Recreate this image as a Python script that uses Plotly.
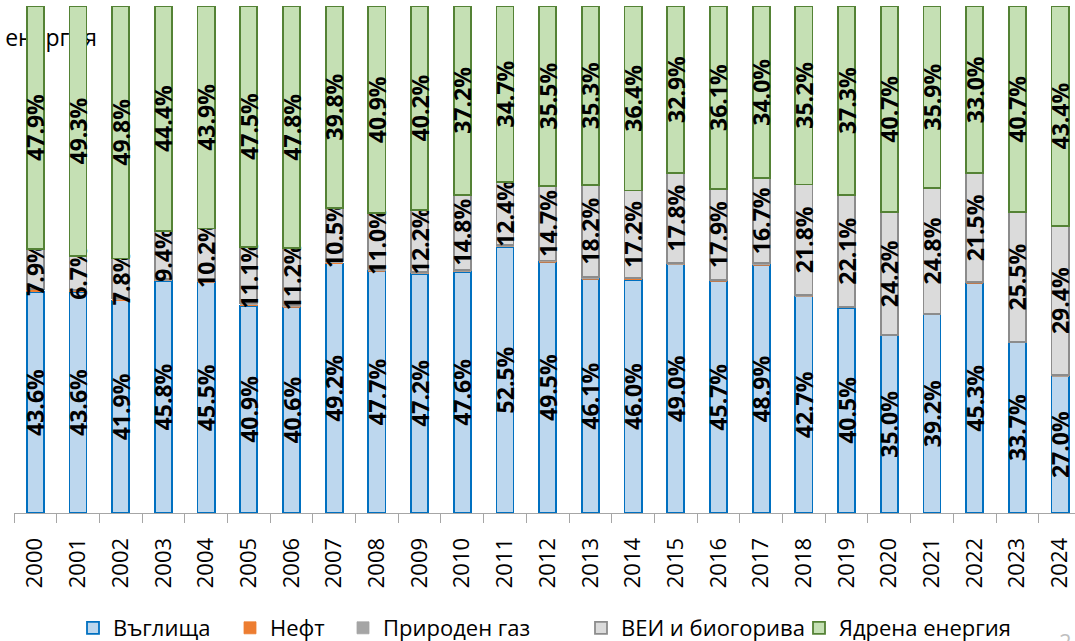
import plotly.graph_objects as go

years = [str(y) for y in range(2000, 2025)]

coal = [43.6, 43.6, 41.9, 45.8, 45.5, 40.9, 40.6, 49.2, 47.7, 47.2, 47.6, 52.5, 49.5,
        46.1, 46.0, 49.0, 45.7, 48.9, 42.7, 40.5, 35.0, 39.2, 45.3, 33.7, 27.0]
oil = [0.4, 0.3, 0.3, 0.1, 0.1, 0.2, 0.2, 0.2, 0.1, 0.1, 0.1, 0.1, 0.2,
       0.1, 0.3, 0.1, 0.1, 0.1, 0.1, 0.0, 0.0, 0.0, 0.1, 0.0, 0.0]
gas = [0.2, 0.1, 0.2, 0.3, 0.3, 0.3, 0.2, 0.3, 0.3, 0.3, 0.3, 0.3, 0.1,
       0.3, 0.1, 0.2, 0.2, 0.3, 0.2, 0.1, 0.1, 0.1, 0.1, 0.1, 0.2]
res = [7.9, 6.7, 7.8, 9.4, 10.2, 11.1, 11.2, 10.5, 11.0, 12.2, 14.8, 12.4, 14.7,
       18.2, 17.2, 17.8, 17.9, 16.7, 21.8, 22.1, 24.2, 24.8, 21.5, 25.5, 29.4]
nuclear = [47.9, 49.3, 49.8, 44.4, 43.9, 47.5, 47.8, 39.8, 40.9, 40.2, 37.2, 34.7, 35.5,
           35.3, 36.4, 32.9, 36.1, 34.0, 35.2, 37.3, 40.7, 35.9, 33.0, 40.7, 43.4]

FONT = "Open Sans"
label_font = dict(family=FONT, size=23, color="black", weight="bold")

# name, values, fill, outline, outline width, labelled, legend id, legend left (px)
series = [
    ("Въглища", coal, "#BDD7EE", "#0070C0", 1.8, True, "legend", 73),
    ("Нефт", oil, "#ED7D31", "#ED7D31", 0.8, False, "legend2", 230),
    ("Природен газ", gas, "#A5A5A5", "#A5A5A5", 0.8, False, "legend3", 343),
    ("ВЕИ и биогорива", res, "#DBDBDB", "#8C8C8C", 1.8, True, "legend4", 581),
    ("Ядрена енергия", nuclear, "#C5E0B4", "#548235", 1.8, True, "legend5", 799),
]

PLOT_L, PLOT_W = 14, 1061
PLOT_B, PLOT_H = 513, 507

fig = go.Figure()
legends = {}
for name, vals, fill, edge, lw, labelled, leg, left_px in series:
    fig.add_trace(go.Bar(
        x=years, y=vals, name=name, legend=leg,
        marker=dict(color=fill, line=dict(color=edge, width=lw)),
        text=[f"{v:.1f}%" for v in vals] if labelled else None,
        textposition="inside" if labelled else "none",
        insidetextanchor="middle",
        textangle=-90,
        constraintext="none",
        insidetextfont=label_font,
        cliponaxis=False,
        hoverinfo="skip",
    ))
    legends[leg] = dict(
        orientation="h",
        x=(left_px - PLOT_L) / PLOT_W, xanchor="left",
        y=-(628 - PLOT_B) / PLOT_H, yanchor="middle",
        font=dict(family=FONT, size=22, color="black"),
        itemwidth=30, bgcolor="rgba(0,0,0,0)",
    )

fig.update_layout(
    width=1075, height=641,
    margin=dict(l=PLOT_L, r=0, t=6, b=128, autoexpand=False),
    paper_bgcolor="white", plot_bgcolor="white",
    barmode="stack", barnorm="percent", bargap=0.6,
    font=dict(family=FONT, size=22, color="black"),
    showlegend=True,
    xaxis=dict(
        type="category", range=[-0.5, 24.35], automargin=False,
        showline=True, linecolor="#A6A6A6", linewidth=1.3,
        ticks="outside", tickson="boundaries", ticklen=9, tickcolor="#A6A6A6", tickwidth=1.3,
        tickangle=-90, tickfont=dict(family=FONT, size=22, color="black"),
        ticklabelstandoff=15,
        showgrid=False, zeroline=False,
    ),
    yaxis=dict(range=[0, 100], visible=False, showgrid=False, zeroline=False),
    shapes=[dict(
        type="rect", xref="paper", yref="paper", layer="below",
        x0=-0.014, x1=0.09, y0=0.905, y1=0.965,
        line=dict(width=0), fillcolor="rgba(0,0,0,0)",
        label=dict(text="енергия", textposition="middle left",
                   font=dict(family=FONT, size=23, color="black")),
    )],
    annotations=[dict(
        text="2", xref="paper", yref="paper", x=0.999, y=-0.218,
        xanchor="right", yanchor="top", showarrow=False,
        font=dict(family=FONT, size=22, color="#BFBFBF"),
    )],
    **legends,
)

fig.write_html("out.html")
